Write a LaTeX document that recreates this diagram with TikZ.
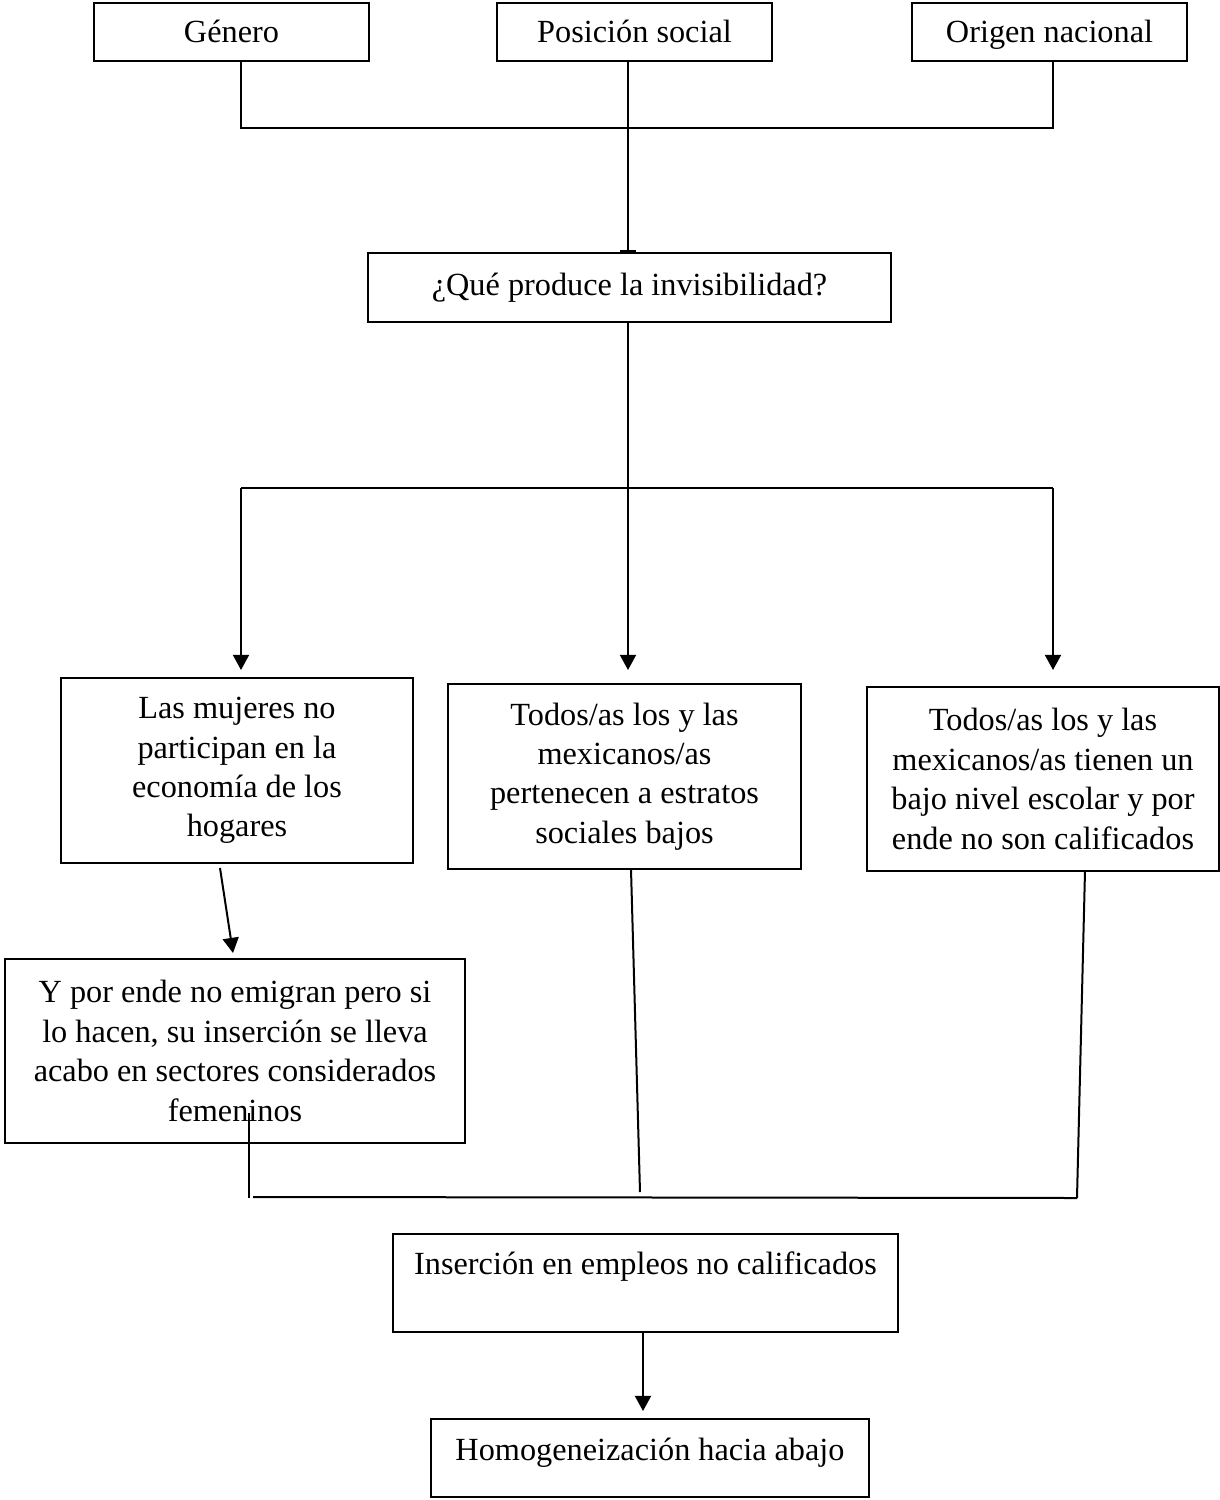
\documentclass[tikz,border=0pt]{standalone}
\usepackage{fontspec}
\setmainfont{Liberation Serif}
\usetikzlibrary{arrows.meta}
\begin{document}
\begin{tikzpicture}[x=0.35pt, y=-0.35pt,
  box/.style={draw, line width=0.7pt, inner sep=0pt, align=center,
    font=\fontsize{11.3pt}{13.8pt}\selectfont},
  oneline/.style={text height=8.8pt, text depth=1.4pt},
  link/.style={line width=0.7pt},
  arr/.style={line width=0.7pt, -{Triangle[length=5.3pt,width=5.6pt]}}]
\useasboundingbox (0,0) rectangle (1220,1500);

% top row of factors
\node[box, oneline, minimum width=275*0.35pt, minimum height=58*0.35pt] (gen) at (231.5,32) {Género};
\node[box, oneline, minimum width=275*0.35pt, minimum height=58*0.35pt] (pos) at (634.5,32) {Posición social};
\node[box, oneline, minimum width=275*0.35pt, minimum height=58*0.35pt] (ori) at (1049.5,32) {Origen nacional};

% central question
\node[box, oneline, text height=7.6pt, text depth=1.9pt, minimum width=523*0.35pt, minimum height=69*0.35pt] (que) at (629.5,287.5) {¿Qué produce la invisibilidad?};

% three consequences
\node[box, minimum width=352*0.35pt, minimum height=185*0.35pt] (muj) at (237,770.5)
  {Las mujeres no\\participan en la\\economía de los\\hogares};
\node[box, minimum width=353*0.35pt, minimum height=185*0.35pt] (est) at (624.5,776.5)
  {Todos/as los y las\\mexicanos/as\\pertenecen a estratos\\sociales bajos};
\node[box, minimum width=352*0.35pt, minimum height=184*0.35pt] (niv) at (1043,779)
  {Todos/as los y las\\mexicanos/as tienen un\\bajo nivel escolar y por\\ende no son calificados};

\node[box, minimum width=460*0.35pt, minimum height=184*0.35pt] (fem) at (235,1051)
  {Y por ende no emigran pero si\\lo hacen, su inserción se lleva\\acabo en sectores considerados\\femeninos};

% outcome
\node[box, minimum width=505*0.35pt, minimum height=98*0.35pt] (ins) at (645.5,1283)
  {Inserción en empleos no calificados\\\mbox{}};
\node[box, oneline, text height=7.6pt, text depth=5.8pt, minimum width=438*0.35pt, minimum height=78*0.35pt] (hom) at (650,1458)
  {Homogeneización hacia abajo};

% junction points
\coordinate (gx) at (241,128);
\coordinate (px) at (628,128);
\coordinate (ox) at (1053,128);
\coordinate (bl) at (241,488);
\coordinate (bm) at (628,488);
\coordinate (br) at (1053,488);
\coordinate (tl) at (241,670);
\coordinate (tm) at (628,670);
\coordinate (tr) at (1053,670);
\coordinate (ma) at (220,868);
\coordinate (mb) at (233,953);
\coordinate (fa) at (249,1113);
\coordinate (fb) at (249,1198);
\coordinate (ea) at (631,869);
\coordinate (eb) at (640,1192);
\coordinate (na) at (1085,871);
\coordinate (nb) at (1077,1198);
\coordinate (ql) at (253,1197);
\coordinate (hb) at (643,1411);

% upper connectors
\draw[link] (gen.south -| gx) -- (gx) -- (ox) -- (ori.south -| ox);
\draw[link, -{Bar[width=5.6pt]}] (pos.south -| px) -- (que.north -| px);

% branching from the question
\draw[link] (que.south -| bm) -- (bm);
\draw[link] (bl) -- (br);
\draw[arr] (bl) -- (tl);
\draw[arr] (bm) -- (tm);
\draw[arr] (br) -- (tr);

% women branch
\draw[arr] (ma) -- (mb);

% lower gathering lines
\draw[link] (fa) -- (fb);
\draw[link] (ea) -- (eb);
\draw[link] (na) -- (nb);
\draw[link] (ql) -- (nb);

% final arrow
\draw[arr] (ins.south -| hb) -- (hb);
\end{tikzpicture}
\end{document}
